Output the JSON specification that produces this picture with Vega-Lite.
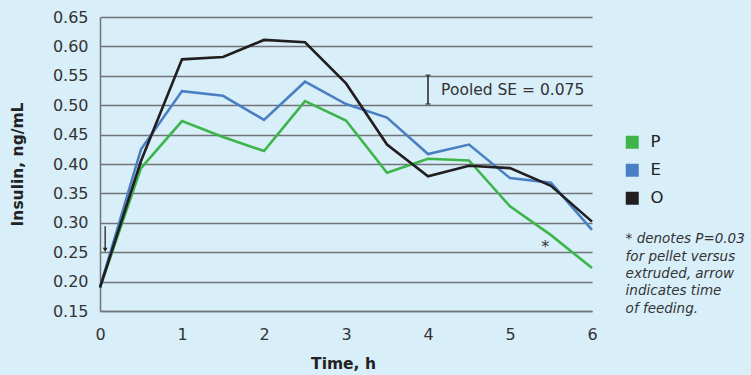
{
  "$schema": "https://vega.github.io/schema/vega-lite/v6.json",
  "width": 492,
  "height": 294,
  "autosize": {"type": "none"},
  "padding": {"left": 100, "top": 17, "right": 159, "bottom": 64},
  "background": "#d8eef9",
  "config": {
    "font": "DejaVu Sans",
    "view": {"stroke": null},
    "axis": {"labelColor": "#333333", "titleColor": "#222222"}
  },
  "datasets": {
    "series": [
      {"t": 0, "v": 0.19, "g": "P"}, {"t": 0.5, "v": 0.393, "g": "P"}, {"t": 1, "v": 0.473, "g": "P"},
      {"t": 1.5, "v": 0.446, "g": "P"}, {"t": 2, "v": 0.422, "g": "P"}, {"t": 2.5, "v": 0.507, "g": "P"},
      {"t": 3, "v": 0.474, "g": "P"}, {"t": 3.5, "v": 0.385, "g": "P"}, {"t": 4, "v": 0.409, "g": "P"},
      {"t": 4.5, "v": 0.406, "g": "P"}, {"t": 5, "v": 0.328, "g": "P"}, {"t": 5.5, "v": 0.279, "g": "P"},
      {"t": 6, "v": 0.223, "g": "P"},
      {"t": 0, "v": 0.19, "g": "E"}, {"t": 0.5, "v": 0.425, "g": "E"}, {"t": 1, "v": 0.524, "g": "E"},
      {"t": 1.5, "v": 0.516, "g": "E"}, {"t": 2, "v": 0.475, "g": "E"}, {"t": 2.5, "v": 0.540, "g": "E"},
      {"t": 3, "v": 0.502, "g": "E"}, {"t": 3.5, "v": 0.479, "g": "E"}, {"t": 4, "v": 0.417, "g": "E"},
      {"t": 4.5, "v": 0.433, "g": "E"}, {"t": 5, "v": 0.376, "g": "E"}, {"t": 5.5, "v": 0.368, "g": "E"},
      {"t": 6, "v": 0.288, "g": "E"},
      {"t": 0, "v": 0.19, "g": "O"}, {"t": 0.5, "v": 0.405, "g": "O"}, {"t": 1, "v": 0.578, "g": "O"},
      {"t": 1.5, "v": 0.582, "g": "O"}, {"t": 2, "v": 0.611, "g": "O"}, {"t": 2.5, "v": 0.607, "g": "O"},
      {"t": 3, "v": 0.537, "g": "O"}, {"t": 3.5, "v": 0.433, "g": "O"}, {"t": 4, "v": 0.379, "g": "O"},
      {"t": 4.5, "v": 0.397, "g": "O"}, {"t": 5, "v": 0.393, "g": "O"}, {"t": 5.5, "v": 0.363, "g": "O"},
      {"t": 6, "v": 0.302, "g": "O"}
    ],
    "se": [{"t": 4, "lo": 0.502, "hi": 0.551}],
    "seCaps": [{"t": 4, "v": 0.502}, {"t": 4, "v": 0.551}],
    "seLabel": [{"t": 4.16, "v": 0.5255, "label": "Pooled SE = 0.075"}],
    "arrow": [{"t": 0.063, "lo": 0.256, "hi": 0.294}],
    "arrowHead": [{"t": 0.063, "v": 0.254}],
    "star": [{"t": 5.43, "v": 0.259, "label": "*"}],
    "note": [{"t": 6.41, "v": 0.2717, "label": ["* denotes P=0.03", "for pellet versus", "extruded, arrow", "indicates time", "of feeding."]}]
  },
  "layer": [
    {
      "data": {"name": "series"},
      "mark": {"type": "line", "strokeWidth": 2.6, "clip": false},
      "encoding": {
        "x": {
          "field": "t", "type": "quantitative",
          "scale": {"domain": [0, 6], "nice": false, "zero": false},
          "axis": {
            "values": [0, 1, 2, 3, 4, 5, 6], "tickCount": 20, "format": "d", "grid": false, "ticks": false,
            "labelOverlap": false, "labelFlush": false,
            "domainColor": "#6f7478", "domainWidth": 1.5,
            "labelFontSize": 16, "labelPadding": 15,
            "title": "Time, h", "titleFontSize": 15.5, "titleFontWeight": "bold", "titlePadding": 14, "titleX": 243
          }
        },
        "y": {
          "field": "v", "type": "quantitative",
          "scale": {"domain": [0.15, 0.65], "nice": false, "zero": false},
          "axis": {
            "values": [0.15, 0.2, 0.25, 0.3, 0.35, 0.4, 0.45, 0.5, 0.55, 0.6, 0.65], "tickCount": 20,
            "format": ".2f", "grid": true, "gridColor": "#6f7478", "gridWidth": 1.5, "gridOpacity": 1,
            "labelOverlap": false, "labelFlush": false,
            "ticks": false, "domainColor": "#6f7478", "domainWidth": 1.5,
            "labelFontSize": 16, "labelPadding": 12,
            "title": "Insulin, ng/mL", "titleFontSize": 15.5, "titleFontWeight": "bold", "titlePadding": 27
          }
        },
        "color": {
          "field": "g", "type": "nominal",
          "scale": {"domain": ["P", "E", "O"], "range": ["#3db54a", "#4a80c3", "#221e1f"]},
          "legend": {
            "title": null, "orient": "none", "legendX": 524, "legendY": 117,
            "symbolType": "square", "symbolSize": 169, "symbolStrokeWidth": 0,
            "labelFontSize": 16.5, "labelColor": "#222222", "labelOffset": 10, "rowPadding": 11,
            "encode": {"symbols": {"update": {"fill": {"scale": "color", "field": "value"}, "fillOpacity": {"value": 1}}}}
          }
        }
      }
    },
    {
      "data": {"name": "se"},
      "mark": {"type": "rule", "color": "#222222", "strokeWidth": 1.5},
      "encoding": {"x": {"field": "t", "type": "quantitative"}, "y": {"field": "lo", "type": "quantitative"}, "y2": {"field": "hi"}}
    },
    {
      "data": {"name": "seCaps"},
      "mark": {"type": "tick", "orient": "horizontal", "color": "#222222", "size": 5, "thickness": 1.5},
      "encoding": {"x": {"field": "t", "type": "quantitative"}, "y": {"field": "v", "type": "quantitative"}}
    },
    {
      "data": {"name": "seLabel"},
      "mark": {"type": "text", "align": "left", "baseline": "middle", "fontSize": 15.5, "color": "#333333"},
      "encoding": {"x": {"field": "t", "type": "quantitative"}, "y": {"field": "v", "type": "quantitative"}, "text": {"field": "label"}}
    },
    {
      "data": {"name": "arrow"},
      "mark": {"type": "rule", "color": "#222222", "strokeWidth": 1.3},
      "encoding": {"x": {"field": "t", "type": "quantitative"}, "y": {"field": "lo", "type": "quantitative"}, "y2": {"field": "hi"}}
    },
    {
      "data": {"name": "arrowHead"},
      "mark": {"type": "point", "shape": "triangle-down", "filled": true, "color": "#222222", "size": 22, "opacity": 1},
      "encoding": {"x": {"field": "t", "type": "quantitative"}, "y": {"field": "v", "type": "quantitative"}}
    },
    {
      "data": {"name": "star"},
      "mark": {"type": "text", "align": "center", "baseline": "middle", "fontSize": 16, "color": "#333333"},
      "encoding": {"x": {"field": "t", "type": "quantitative"}, "y": {"field": "v", "type": "quantitative"}, "text": {"field": "label"}}
    },
    {
      "data": {"name": "note"},
      "mark": {"type": "text", "align": "left", "baseline": "middle", "fontSize": 13.5, "fontStyle": "italic", "color": "#333333", "lineHeight": 17.3, "clip": false},
      "encoding": {"x": {"field": "t", "type": "quantitative"}, "y": {"field": "v", "type": "quantitative"}, "text": {"field": "label"}}
    }
  ]
}
